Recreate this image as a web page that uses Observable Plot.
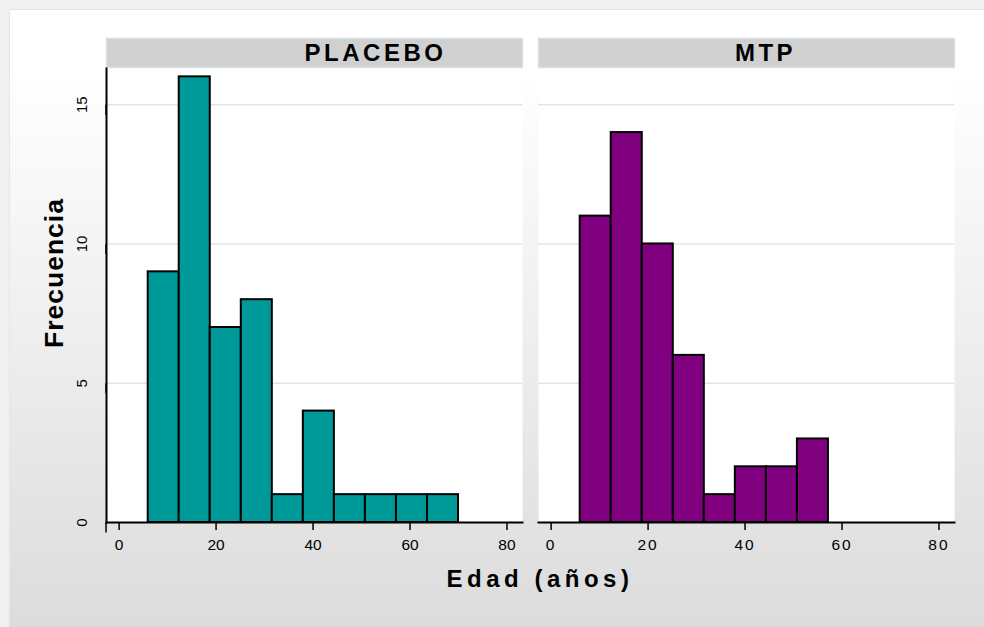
<!DOCTYPE html>
<html><head><meta charset="utf-8">
<script src="https://cdn.jsdelivr.net/npm/d3@7"></script>
<script src="https://cdn.jsdelivr.net/npm/@observablehq/plot@0.6"></script>
<style>
html,body{margin:0;padding:0;}
body{width:984px;height:627px;background:#f0f0f0;position:relative;overflow:hidden;font-family:"Liberation Sans",Arial,sans-serif;}
#bg{position:absolute;left:9px;top:9px;right:0;bottom:0;border-left:1px solid #e6e6e6;border-top:1px solid #e6e6e6;background:linear-gradient(to bottom,#ffffff 0px,#ffffff 60px,#dcdcdc 100%);}
#chart{position:absolute;left:0;top:0;}
</style></head><body>
<div id="bg"></div>
<div id="chart"></div>
<script>
const groups = ["PLACEBO", "MTP"];
const groupColors = ["#009999", "#800080"];
const binEdges = [6, 12.4, 18.8, 25.2, 31.6, 38, 44.4, 50.8, 57.2, 63.6, 70];
const placeboCounts = [9, 16, 7, 8, 1, 4, 1, 1, 1, 1];
const mtpCounts = [11, 14, 10, 6, 1, 2, 2, 3];
const xTicks = [0, 20, 40, 60, 80];
const yTicks = [0, 5, 10, 15];
const yGrid = [5, 10, 15];
const xTitle = "Edad (años)";
const yTitle = "Frecuencia";

const bins = [];
placeboCounts.forEach((c, i) => bins.push({group: groups[0], x1: binEdges[i], x2: binEdges[i + 1], count: c}));
mtpCounts.forEach((c, i) => bins.push({group: groups[1], x1: binEdges[i], x2: binEdges[i + 1], count: c}));

const font = '"Liberation Sans", Arial, sans-serif';

const plot = Plot.plot({
  width: 984, height: 627,
  marginLeft: 106, marginRight: 29, marginTop: 68, marginBottom: 105,
  style: {background: "transparent", fontFamily: font, fontSize: "15px", color: "#000", overflow: "visible"},
  fx: {domain: groups, paddingInner: 0.037, paddingOuter: 0, axis: null, label: null},
  x: {domain: [-2.6, 83.2], label: null},
  y: {domain: [0, 16.3], label: null},
  color: {domain: groups, range: groupColors},
  marks: [
    Plot.frame({fill: "white", stroke: null}),
    Plot.frame({fill: "#d0d0d0", stroke: "#d3e1e9", strokeWidth: 1.5, insetBottom: 425, dy: -30}),
    Plot.text([groups[0]], {fx: d => d, text: d => d, frameAnchor: "top", lineAnchor: "middle", dy: -15, dx: 61, fontSize: 24, fontWeight: "bold"}),
    Plot.text([groups[1]], {fx: d => d, text: d => d, frameAnchor: "top", lineAnchor: "middle", dy: -15, dx: 19, fontSize: 24, fontWeight: "bold"}),
    Plot.gridY(yGrid, {stroke: "#e4e4e4", strokeOpacity: 1, strokeWidth: 1.5}),
    Plot.rect(bins, {fx: "group", x1: "x1", x2: "x2", y1: 0, y2: "count", fill: "group", stroke: "black", strokeWidth: 2}),
    Plot.frame({anchor: "bottom", stroke: "black", strokeWidth: 2}),
    Plot.frame({anchor: "left", facetAnchor: "left", stroke: "black", strokeWidth: 2}),
    Plot.axisX(xTicks, {tickSize: 8, tickPadding: 8, strokeWidth: 1.5, fontSize: 15.5, label: null}),
    Plot.axisY(yTicks, {tickSize: 10, tickPadding: 10, strokeWidth: 1.5, rotate: -90, textAnchor: "middle", lineAnchor: "bottom", fontSize: 15, label: null})
  ]
});

document.getElementById("chart").appendChild(plot);
const svg = d3.select(plot);
svg.selectAll("text")
  .filter(function () { return groups.includes(this.textContent); })
  .style("letter-spacing", "3.5px");

// second panel tick labels are drawn slightly spaced out in the original
svg.selectAll('g[aria-label="x-axis tick label"] text')
  .filter(function () { return this.getBoundingClientRect().left > 530; })
  .style("letter-spacing", "2px");

svg.append("text")
  .attr("x", 540).attr("y", 587)
  .attr("text-anchor", "middle")
  .style("font-family", font).style("font-size", "24px").style("font-weight", "bold")
  .style("letter-spacing", "4.5px").attr("fill", "#000")
  .text(xTitle);

svg.append("text")
  .attr("transform", "translate(63,273) rotate(-90)")
  .attr("text-anchor", "middle")
  .style("font-family", font).style("font-size", "26.5px").style("font-weight", "bold")
  .style("letter-spacing", "1px").attr("fill", "#000")
  .text(yTitle);
</script>
</body></html>
